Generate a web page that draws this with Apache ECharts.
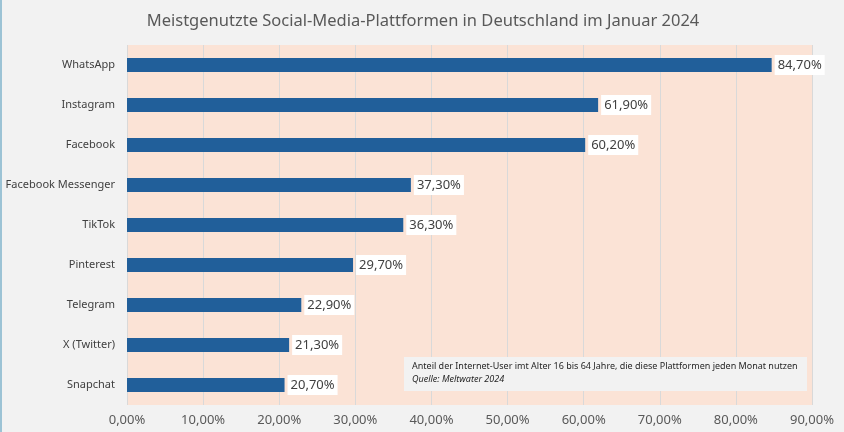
<!DOCTYPE html>
<html><head><meta charset="utf-8">
<script src="https://cdn.jsdelivr.net/npm/echarts@6/dist/echarts.min.js"></script>
<style>
html,body{margin:0;padding:0;background:#f2f2f2;}
#c{width:844px;height:432px;box-sizing:border-box;border-left:2px solid #9cc3d5;}
</style></head>
<body><div id="c"></div>
<script>
const categories = ["WhatsApp","Instagram","Facebook","Facebook Messenger","TikTok","Pinterest","Telegram","X (Twitter)","Snapchat"];
const values = [84.7,61.9,60.2,37.3,36.3,29.7,22.9,21.3,20.7];
const titleText = "Meistgenutzte Social-Media-Plattformen in Deutschland im Januar 2024";
const noteLine1 = "Anteil der Internet-User imt Alter 16 bis 64 Jahre, die diese Plattformen jeden Monat nutzen";
const noteLine2 = "Quelle: Meltwater 2024";

const fmt = v => v.toFixed(2).replace('.', ',') + '%';
const chart = echarts.init(document.getElementById('c'));
chart.setOption({
  backgroundColor: '#f2f2f2',
  animation: false,
  title: {
    text: titleText, left: 'center', top: 8,
    textStyle: {fontFamily: 'Noto Sans', fontSize: 16.5, fontWeight: 'normal', color: '#595959'}
  },
  grid: {left: 125, right: 32, top: 45, bottom: 27, show: true, backgroundColor: '#fbe3d6', borderWidth: 0, outerBoundsMode: 'none', containLabel: false},
  xAxis: {
    type: 'value', min: 0, max: 90, interval: 10,
    axisLabel: {formatter: v => fmt(v), color: '#595959', fontSize: 13, fontFamily: 'Noto Sans', margin: 9},
    splitLine: {lineStyle: {color: '#d9d9d9', width: 1}},
    axisLine: {show: false}, axisTick: {show: false}
  },
  yAxis: {
    type: 'category', data: categories, inverse: true,
    axisLabel: {color: '#404040', fontSize: 11, fontFamily: 'Noto Sans', margin: 12},
    axisLine: {show: false}, axisTick: {show: false}
  },
  series: [{
    type: 'bar', data: values, barWidth: 14,
    itemStyle: {color: '#215f9a'},
    label: {
      show: true, position: 'right', distance: 3,
      formatter: p => fmt(p.value),
      color: '#404040', fontSize: 13, fontFamily: 'Noto Sans',
      backgroundColor: '#ffffff', padding: [4, 3, 3, 3]
    }
  }],
  graphic: [{
    type: 'group', left: 402, top: 357, z: 100,
    children: [
      {type: 'rect', z: 100, shape: {x: 0, y: 0, width: 403, height: 34}, style: {fill: '#f2f2f2'}},
      {type: 'text', z: 101, left: 8, top: 5, style: {text: noteLine1, fontSize: 9, fontFamily: 'Noto Sans', fill: '#262626'}},
      {type: 'text', z: 101, left: 8, top: 18, style: {text: noteLine2, fontSize: 9, fontStyle: 'italic', fontFamily: 'Noto Sans', fill: '#262626'}}
    ]
  }]
});
</script></body></html>
